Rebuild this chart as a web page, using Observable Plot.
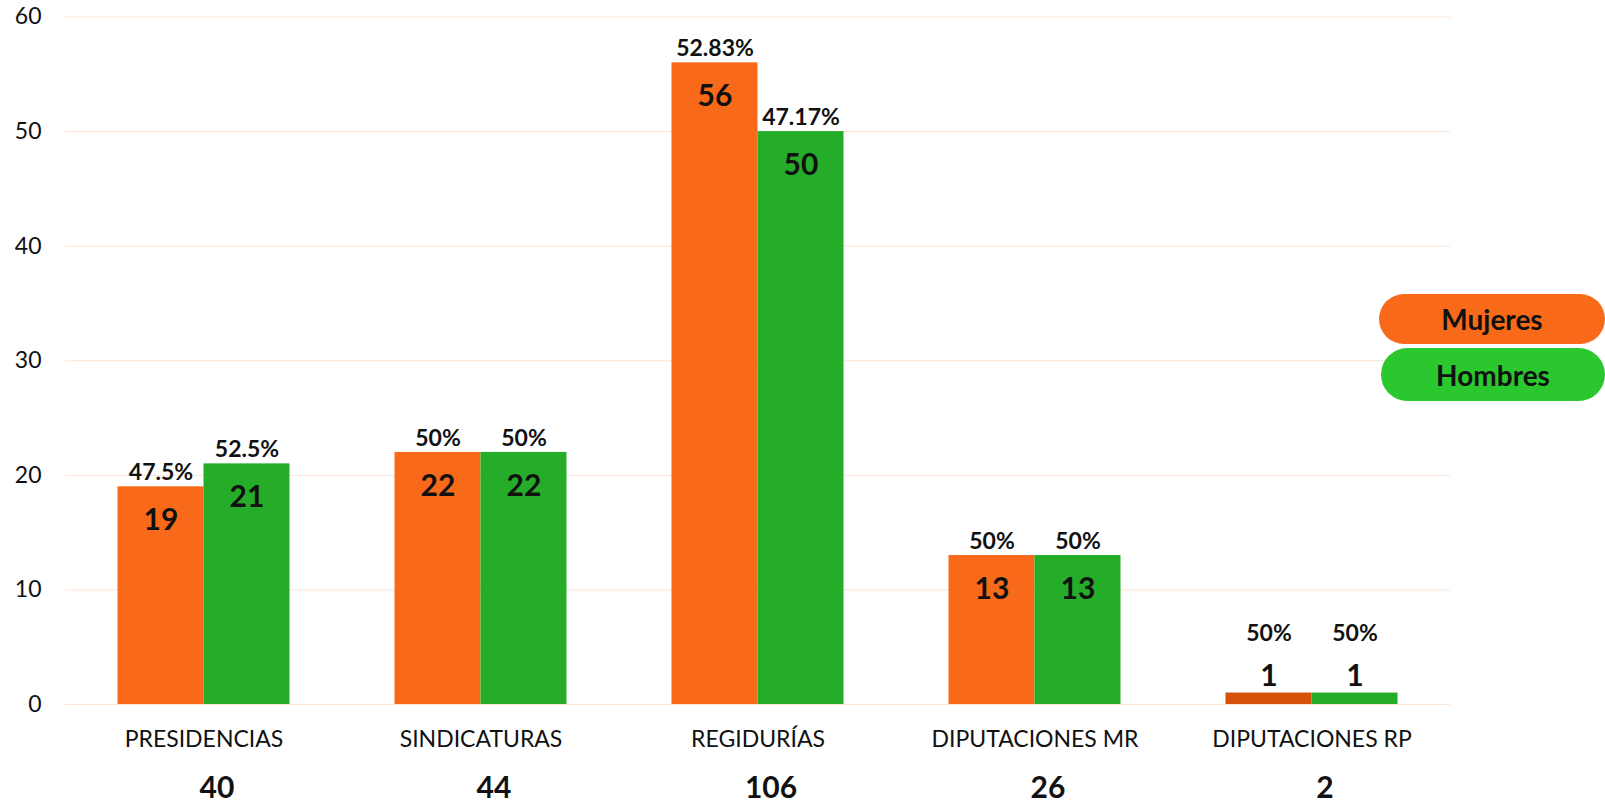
<!DOCTYPE html>
<html><head><meta charset="utf-8">
<script src="https://cdn.jsdelivr.net/npm/d3@7"></script>
<script src="https://cdn.jsdelivr.net/npm/@observablehq/plot@0.6"></script>
<style>
body{margin:0;background:#fff;}
#wrap{position:relative;width:1605px;height:805px;overflow:hidden;}
.pill{position:absolute;font-family:Lato,sans-serif;font-weight:bold;font-size:28px;color:#111;display:flex;align-items:center;justify-content:center;border-radius:27px;}
</style></head><body><div id="wrap"></div>
<script>
const categories = ["PRESIDENCIAS","SINDICATURAS","REGIDURÍAS","DIPUTACIONES MR","DIPUTACIONES RP"];
const series = ["Mujeres","Hombres"];
const mujeres = [19,22,56,13,1];
const hombres = [21,22,50,13,1];
const pctMujeres = ["47.5%","50%","52.83%","50%","50%"];
const pctHombres = ["52.5%","50%","47.17%","50%","50%"];
const totals = [40,44,106,26,2];
const yTicks = [0,10,20,30,40,50,60];

const ORANGE = "#F86A1A", ORANGE_DARK = "#D65208", GREEN = "#25AC29", GREEN_LEG = "#2AC82E";

const rows = [];
categories.forEach((c,i)=>{
  rows.push({cat:c, g:"Mujeres", v:mujeres[i], pct:pctMujeres[i]});
  rows.push({cat:c, g:"Hombres", v:hombres[i], pct:pctHombres[i]});
});
const catRows = categories.map((c,i)=>({cat:c,total:totals[i]}));
const fillOf = d => d.g === "Mujeres" ? (d.v < 5 ? ORANGE_DARK : ORANGE) : GREEN;
const big = rows.filter(d=>d.v>=5), small = rows.filter(d=>d.v<5);
const FONT = "Lato, sans-serif";

const chart = Plot.plot({
  width:1605, height:805,
  marginLeft:64.5, marginRight:155, marginTop:16.5, marginBottom:101,
  style:{fontFamily:FONT, background:"#fff", overflow:"visible"},
  fx:{domain:categories, padding:0, axis:null},
  x:{domain:series, paddingInner:0, paddingOuter:0.61, axis:null},
  y:{domain:[0,60], ticks:yTicks},
  marks:[
    Plot.gridY(yTicks,{stroke:"#FCE4D6", strokeOpacity:1, strokeWidth:1}),
    Plot.axisY(yTicks,{tickSize:0, tickPadding:24, fontSize:23, fill:"#111", label:null}),
    Plot.barY(rows,{fx:"cat", x:"g", y:"v", fill:fillOf, inset:0}),
    Plot.text(big,{fx:"cat", x:"g", y:"v", text:d=>String(d.v), dy:34, fontSize:30, fontWeight:"bold", fill:"#111"}),
    Plot.text(small,{fx:"cat", x:"g", y:"v", text:d=>String(d.v), dy:-17, fontSize:30, fontWeight:"bold", fill:"#111"}),
    Plot.text(big,{fx:"cat", x:"g", y:"v", text:"pct", dy:-14, fontSize:23, fontWeight:"bold", fill:"#111"}),
    Plot.text(small,{fx:"cat", x:"g", y:"v", text:"pct", dy:-59, fontSize:23, fontWeight:"bold", fill:"#111"}),
    Plot.text(catRows,{fx:"cat", y:0, text:"cat", dy:35, fontSize:23, fill:"#111"}),
    Plot.text(catRows,{fx:"cat", y:0, text:d=>String(d.total), dy:84, dx:13, fontSize:30, fontWeight:"bold", fill:"#111"})
  ]
});
const wrap = document.getElementById("wrap");
wrap.appendChild(chart);

const legendBoxes = [{left:1379, top:294, height:50},{left:1381, top:348, height:53}];
const legendColors = [ORANGE, GREEN_LEG];
series.forEach((s,i)=>{
  const el = document.createElement("div");
  el.className = "pill";
  el.textContent = s;
  el.style.left = legendBoxes[i].left+"px";
  el.style.top = legendBoxes[i].top+"px";
  el.style.height = legendBoxes[i].height+"px";
  el.style.width = (1605-legendBoxes[i].left)+"px";
  el.style.background = legendColors[i];
  wrap.appendChild(el);
});
</script></body></html>
